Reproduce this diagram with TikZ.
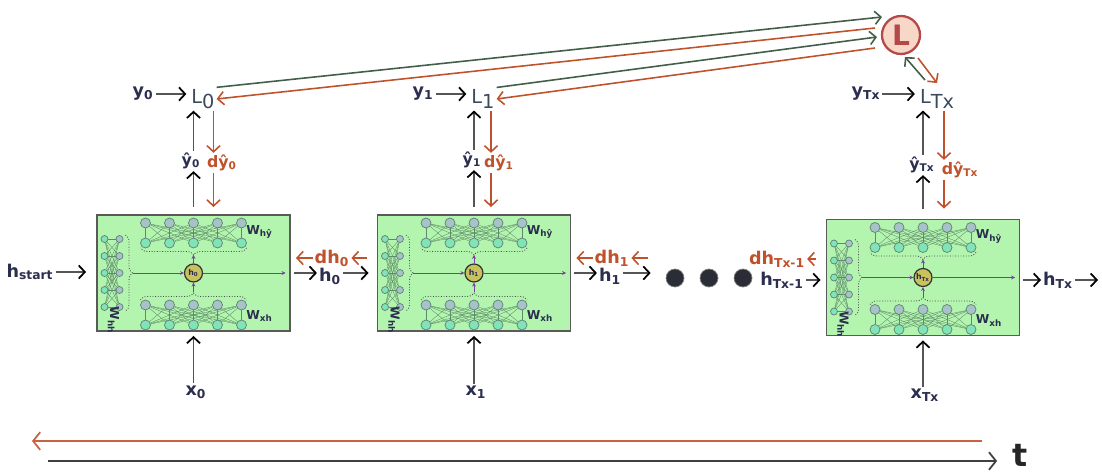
\documentclass[tikz,border=0pt]{standalone}
\usepackage{fontspec}
\setmainfont{DejaVu Sans}
\usetikzlibrary{
    positioning,
    calc,
    arrows.meta,
    decorations.pathreplacing
}
\definecolor{NavyText}{HTML}{2B2E4E}
\definecolor{SlateText}{HTML}{3B4B5E}
\definecolor{RustOrange}{HTML}{C0522B}
\definecolor{LossGreen}{HTML}{435E48}
\definecolor{ArrowGray}{HTML}{555555}
\definecolor{BoxGreen}{HTML}{B3F5AE}
\definecolor{BoxBorder}{HTML}{5A5A5A}
\definecolor{NeuronGray}{HTML}{A7C3C7}
\definecolor{NeuronTeal}{HTML}{80E4B6}
\definecolor{NeuronEdge}{HTML}{5E7F78}
\definecolor{SynapseGreen}{HTML}{5D8A6A}
\definecolor{HiddenOlive}{HTML}{C8C25E}
\definecolor{PurpleLine}{HTML}{7B3FA0}
\definecolor{LossFill}{HTML}{F6D7C8}
\definecolor{LossRed}{HTML}{B54848}
\definecolor{DotFill}{HTML}{2A2C36}

\tikzset{
    cellbox/.style={draw=BoxBorder, fill=BoxGreen, line width=1.1pt,
        minimum width=3.86cm, minimum height=2.32cm, inner sep=0pt},
    neurongray/.style={circle, draw=NeuronEdge, fill=NeuronGray,
        minimum size=0.2cm, inner sep=0pt, line width=0.4pt},
    neuronteal/.style={neurongray, fill=NeuronTeal},
    smallgray/.style={neurongray, minimum size=0.14cm},
    smallteal/.style={neuronteal, minimum size=0.14cm},
    synapse/.style={draw=SynapseGreen, line width=0.2pt},
    hiddenunit/.style={circle, draw=black!80, fill=HiddenOlive, line width=0.7pt,
        minimum size=0.36cm, inner sep=0pt, text=NavyText,
        font=\fontsize{4.5}{5}\selectfont\bfseries},
    purplearrow/.style={draw=PurpleLine, line width=0.5pt,
        -{Stealth[length=2.2pt,width=2.2pt]}},
    dottedbrace/.style={draw=black!70, densely dotted, line width=0.5pt,
        decorate, decoration={brace, amplitude=4pt, aspect=0.5}},
    wlabel/.style={text=NavyText, inner sep=0pt,
        font=\fontsize{7}{8}\selectfont\bfseries},
    lbl/.style={text=NavyText, inner sep=1pt,
        font=\fontsize{10}{12}\selectfont\bfseries},
    hatlbl/.style={lbl, font=\fontsize{9}{11}\selectfont\bfseries},
    gradlbl/.style={text=RustOrange, inner sep=1pt,
        font=\fontsize{10}{12}\selectfont\bfseries},
    gradhat/.style={gradlbl, font=\fontsize{9}{11}\selectfont\bfseries},
    losslbl/.style={text=SlateText, inner sep=1pt,
        font=\fontsize{11}{12}\selectfont},
    lossnode/.style={circle, draw=LossRed, fill=LossFill, line width=1.3pt,
        minimum size=0.76cm, inner sep=0pt, text=LossRed,
        font=\fontsize{16}{16}\selectfont\bfseries},
    blackdot/.style={circle, fill=DotFill, draw=black!50, line width=0.4pt,
        minimum size=0.36cm, inner sep=0pt},
    fwd/.style={draw=ArrowGray, line width=1pt,
        -{Straight Barb[length=3.5pt,width=7.5pt,line width=1pt,color=black]}},
    bwd/.style={draw=RustOrange, line width=0.9pt,
        -{Straight Barb[length=3.5pt,width=7.5pt,line width=0.9pt]}},
    toloss/.style={draw=LossGreen, line width=0.9pt,
        -{Straight Barb[length=3.5pt,width=7.5pt,line width=0.9pt]}},
    timefwd/.style={draw=black!75, line width=1.4pt,
        -{Straight Barb[length=4pt,width=10pt,line width=1pt]}},
    timebwd/.style={draw=RustOrange!90, line width=1.4pt,
        -{Straight Barb[length=4pt,width=10pt,line width=1pt]}},
    pics/rnncell/.style={code={
        \node[cellbox] (-box) at (0,0) {};
        \foreach \k in {1,...,5}{
            \node[neurongray] (-a\k) at ({-72+24*\k},-50) {};
            \node[neuronteal] (-b\k) at ({-72+24*\k},-30) {};
            \node[neurongray] (-c\k) at ({-72+24*\k},32) {};
            \node[neuronteal] (-d\k) at ({-72+24*\k},52) {};
            \node[smallteal] (-l\k) at (-89,{-51+17*\k}) {};
            \node[smallgray] (-r\k) at (-74,{-51+17*\k}) {};
        }
        \foreach \i in {1,...,5}{
            \foreach \j in {1,...,5}{
                \draw[synapse] (-a\i) -- (-b\j);
                \draw[synapse] (-c\i) -- (-d\j);
                \draw[synapse] (-l\i) -- (-r\j);
            }
        }
        \draw[dottedbrace] (53,-25) -- (-53,-25);
        \draw[dottedbrace] (-53,27) -- (53,27);
        \draw[dottedbrace] (-68,-38) -- (-68,38);
        \coordinate (-lt) at (-61,0);
        \coordinate (-rt) at (92,0);
        \coordinate (-tt) at (0,-18);
        \coordinate (-bt) at (0,19);
        \node[hiddenunit] (-h) at (0,0) {#1};
        \draw[purplearrow] (-lt) -- (-h);
        \draw[purplearrow] (-h) -- (-rt);
        \draw[purplearrow] (-h) -- (-tt);
        \draw[purplearrow] (-bt) -- (-h);
        \node[wlabel] (-why) at (66,-41) {W\textsubscript{hŷ}};
        \node[wlabel] (-wxh) at (66,43) {W\textsubscript{xh}};
        \node[wlabel, rotate=-90] (-whh) at (-80,47) {W\textsubscript{hh}};
    }}
}

\begin{document}
\begin{tikzpicture}[x=0.02cm, y=-0.02cm]
    \useasboundingbox (0,0) rectangle (1102,476);

    \pic (c0) at (193.5,273) {rnncell={h\textsubscript{0}}};
    \pic (c1) at (474,273) {rnncell={h\textsubscript{1}}};
    \pic (c2) at (923,277.5) {rnncell={h\textsubscript{Tx}}};

    \node[lossnode] (Lbig) at (901,35) {L};

    \node[lbl] (y0) at (143,94) {y\textsubscript{0}};
    \node[losslbl] (L0) at (203,99) {L\raisebox{-0.45ex}{0}};
    \node[hatlbl] (yhat0) at (191,161) {ŷ\textsubscript{0}};
    \node[gradhat] (dyhat0) at (222,163) {dŷ\textsubscript{0}};
    \node[lbl] (x0) at (196,392) {x\textsubscript{0}};

    \node[lbl] (y1) at (423,94) {y\textsubscript{1}};
    \node[losslbl] (L1) at (483,99) {L\raisebox{-0.45ex}{1}};
    \node[hatlbl] (yhat1) at (472,160) {ŷ\textsubscript{1}};
    \node[gradhat] (dyhat1) at (499,163) {dŷ\textsubscript{1}};
    \node[lbl] (x1) at (476,392) {x\textsubscript{1}};

    \node[lbl] (yTx) at (866,94) {y\textsubscript{Tx}};
    \node[losslbl] (LTx) at (937,99) {L\raisebox{-0.45ex}{Tx}};
    \node[hatlbl] (yhatTx) at (922,165) {ŷ\textsubscript{Tx}};
    \node[gradhat] (dyhatTx) at (960,170) {dŷ\textsubscript{Tx}};
    \node[lbl] (xTx) at (925,395) {x\textsubscript{Tx}};

    \node[lbl] (hstart) at (30,272) {h\textsubscript{start}};
    \node[lbl] (h0) at (330,276) {h\textsubscript{0}};
    \node[gradlbl] (dh0) at (332,258) {dh\textsubscript{0}};
    \node[lbl] (h1) at (610,276) {h\textsubscript{1}};
    \node[gradlbl] (dh1) at (612,258) {dh\textsubscript{1}};
    \node[blackdot] (dot1) at (675,278) {};
    \node[blackdot] (dot2) at (709,278) {};
    \node[blackdot] (dot3) at (743,278) {};
    \node[lbl] (hTxm) at (782,280) {h\textsubscript{Tx-1}};
    \node[gradlbl] (dhTxm) at (777,259) {dh\textsubscript{Tx-1}};
    \node[lbl] (hTx) at (1058,280) {h\textsubscript{Tx}};
    \coordinate (hout) at (1098,280);
    \coordinate (dh1in) at (648,258);

    % horizontal flow
    \draw[fwd, shorten >=0.2cm] (hstart.east) -- (c0-box.west |- hstart.east);
    \draw[fwd, shorten <=0.06cm] (c0-box.east) -- (c0-box.east -| h0.west);
    \draw[fwd, shorten >=0.16cm] (h0.east |- c0-box.east) -- (c1-box.west);
    \draw[bwd, shorten >=0.1cm] (dh0.west) -- (c0-box.east |- dh0.west);
    \draw[bwd, shorten <=0.2cm] (c1-box.west |- dh0.east) -- (dh0.east);
    \draw[fwd, shorten <=0.06cm] (c1-box.east) -- (c1-box.east -| h1.west);
    \draw[fwd, shorten >=0.3cm] (h1.east |- c1-box.east) -- (dot1.west |- c1-box.east);
    \draw[bwd, shorten >=0.1cm] (dh1.west) -- (c1-box.east |- dh1.west);
    \draw[bwd] (dh1in) -- (dh1.east);
    \draw[fwd, shorten >=0.1cm] (hTxm.east) -- (c2-box.west |- hTxm.east);
    \draw[bwd, shorten <=0.2cm] (c2-box.west |- dhTxm.east) -- (dhTxm.east);
    \draw[fwd, shorten <=0.06cm] (c2-box.east |- hTx.west) -- (hTx.west);
    \draw[fwd] (hTx.east) -- (hout);

    % inputs
    \draw[fwd, shorten >=0.08cm] (x0.north -| c0-box.south) -- (c0-box.south);
    \draw[fwd, shorten >=0.08cm] (x1.north -| c1-box.south) -- (c1-box.south);
    \draw[fwd, shorten >=0.08cm] (xTx.north -| c2-box.south) -- (c2-box.south);

    % outputs and losses
    \draw[fwd, shorten <=0.14cm] (c0-box.north) -- (c0-box.north |- yhat0.south);
    \draw[fwd] (c0-box.north |- yhat0.north) -- (c0-box.north |- L0.south);
    \draw[fwd, shorten >=0.06cm] (y0.east) -- (y0.east -| L0.west);
    \draw[bwd] ($(c0-box.north |- L0.south)+(20,0)$) -- ($(c0-box.north |- dyhat0.north)+(20,0)$);
    \draw[bwd, shorten >=0.14cm] ($(c0-box.north |- dyhat0.south)+(20,0)$) -- ($(c0-box.north)+(20,0)$);

    \draw[fwd, shorten <=0.14cm] (c1-box.north) -- (c1-box.north |- yhat1.south);
    \draw[fwd] (c1-box.north |- yhat1.north) -- (c1-box.north |- L1.south);
    \draw[fwd, shorten >=0.06cm] (y1.east) -- (y1.east -| L1.west);
    \draw[bwd] ($(c1-box.north |- L1.south)+(17,0)$) -- ($(c1-box.north |- dyhat1.north)+(17,0)$);
    \draw[bwd, shorten >=0.14cm] ($(c1-box.north |- dyhat1.south)+(17,0)$) -- ($(c1-box.north)+(17,0)$);

    \draw[fwd, shorten <=0.2cm] (c2-box.north) -- (c2-box.north |- yhatTx.south);
    \draw[fwd] (c2-box.north |- yhatTx.north) -- (c2-box.north |- LTx.south);
    \draw[fwd, shorten >=0.06cm] (yTx.east) -- (yTx.east -| LTx.west);
    \draw[bwd] ($(c2-box.north |- LTx.south)+(21,0)$) -- ($(c2-box.north |- dyhatTx.north)+(21,0)$);
    \draw[bwd, shorten >=0.2cm] ($(c2-box.north |- dyhatTx.south)+(21,0)$) -- ($(c2-box.north)+(21,0)$);

    \draw[toloss] (L0.north east) -- ($(Lbig.center)+(-19,-18)$);
    \draw[bwd] ($(Lbig.center)+(-26,-7)$) -- (L0.east);
    \draw[toloss] (L1.north east) -- ($(Lbig.center)+(-24,2)$);
    \draw[bwd] ($(Lbig.center)+(-26,13)$) -- (L1.east);
    \draw[toloss] ($(LTx.center)+(-12,-19)$) -- ($(Lbig.center)+(4,22)$);
    \draw[bwd] ($(Lbig.center)+(17,23)$) -- ($(LTx.center)+(0,-16)$);

    % time axis
    \coordinate (bwdstart) at (982,441);
    \coordinate (bwdend) at (32,441);
    \coordinate (fwdstart) at (48,461);
    \node[text=black!85, inner sep=0pt, font=\fontsize{18}{18}\selectfont\bfseries] (t) at (1020,455) {t};
    \draw[timebwd] (bwdstart) -- (bwdend);
    \draw[timefwd, shorten >=0.3cm] (fwdstart) -- (t.west |- fwdstart);
\end{tikzpicture}
\end{document}
